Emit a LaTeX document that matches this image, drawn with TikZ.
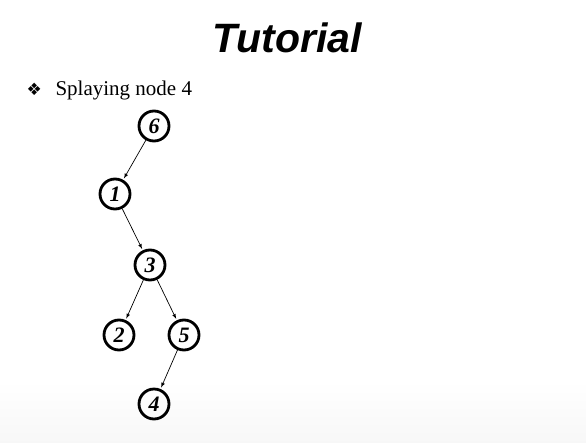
\documentclass[tikz,border=0pt]{standalone}
\usepackage{fontspec}
\setmainfont{Liberation Serif}
\newfontfamily\headfont{Liberation Sans}
\newfontfamily\dingfont{DejaVu Sans}
\usepackage{tikz}
\usetikzlibrary{calc}
\tikzstyle{bubble}=[%
  draw,
  circle,
  line width=2.8pt,
  minimum size=30pt,
  inner sep=0pt,
  font=\fontsize{22}{22}\selectfont\bfseries\itshape
]

\begin{document}
\begin{tikzpicture}[x=1pt, y=-1pt]
      \useasboundingbox (0, 0) rectangle (586, 442);
      % faint band at the foot of the slide
      \shade[top color=white, bottom color=black!3, draw=none] (0, 380) rectangle (586, 442);
      \node[anchor=base, font=\headfont\fontsize{41}{41}\selectfont\bfseries\itshape] (title) at (287, 52) {Tutorial};
      \node[anchor=base west, font=\fontsize{21}{21}\selectfont] (line) at (52, 95) {Splaying node 4};
      \node[anchor=base east, inner sep=0pt, font=\dingfont\fontsize{17}{17}\selectfont] (dot) at ($(line.base west)+(-10, 0)$) {❖};
      \node[bubble] (six) at (154, 126) {6};
      \node[bubble] (one) at (115, 194) {1};
      \node[bubble] (three) at (150, 265) {3};
      \node[bubble] (two) at (119, 335) {2};
      \node[bubble] (five) at (184, 335) {5};
      \node[bubble] (four) at (154, 404) {4};
      \foreach \a/\b in {six/one, one/three, three/two, three/five, five/four} {%
        \draw[line width=0.7pt, -latex, shorten >=1.5pt] (\a) -- (\b);
      }
    \end{tikzpicture}
\end{document}
